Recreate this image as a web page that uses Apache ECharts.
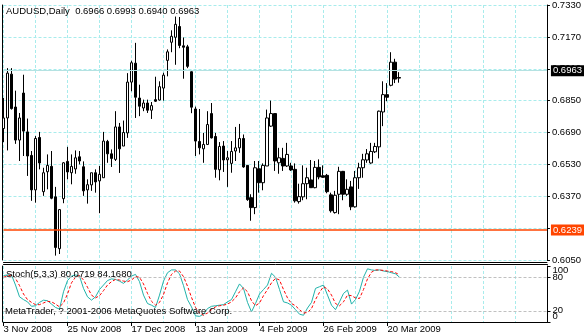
<!DOCTYPE html>
<html><head><meta charset="utf-8">
<script src="https://cdn.jsdelivr.net/npm/echarts@6/dist/echarts.min.js"></script>
<style>html,body{margin:0;padding:0;background:#fff}#c{width:584px;height:336px}</style>
</head><body><div id="c"></div>
<script>
// ---- data ----
const symbolTitle = 'AUDUSD,Daily';
const lastBar = [0.6966, 0.6993, 0.6940, 0.6963];
const dateLabels = ['3 Nov 2008','25 Nov 2008','17 Dec 2008','13 Jan 2009','4 Feb 2009','26 Feb 2009','20 Mar 2009'];
const barsPerDateLabel = 16;
const barsPerGridLine = 8;
const slotCount = 137;
const priceMin = 0.6050, priceMax = 0.7330, priceStep = 0.016;
const hLinePrice = 0.6239;
const stochTitle = 'Stoch(5,3,3)';
const stochLast = [80.0719, 84.1680];
const stochLevels = [20, 80];
const stochEdgeLabels = [100, 0];
const copyrightText = 'MetaTrader, ? 2001-2006 MetaQuotes Software Corp.';

const opens = [0.6710,0.6763,0.6983,0.6818,0.6652,0.6888,0.6693,0.6575,0.6402,0.6665,
0.6393,0.6493,0.6520,0.6367,0.6107,0.6358,0.6545,0.6488,0.6507,0.6568,
0.6518,0.6402,0.6427,0.6488,0.6447,0.6463,0.6645,0.6583,0.6555,0.6718,
0.6622,0.6688,0.6943,0.7038,0.6863,0.6813,0.6838,0.6802,0.6855,0.6853,
0.6913,0.7052,0.7143,0.7168,0.7222,0.7125,0.7120,0.6995,0.6808,0.6645,
0.6608,0.6630,0.6785,0.6670,0.6503,0.6622,0.6553,0.6535,0.6597,0.6613,
0.6660,0.6525,0.6363,0.6313,0.6508,0.6438,0.6522,0.6722,0.6785,0.6538,
0.6560,0.6522,0.6522,0.6505,0.6343,0.6367,0.6433,0.6452,0.6413,0.6515,
0.6473,0.6475,0.6377,0.6288,0.6380,0.6495,0.6380,0.6417,0.6317,0.6463,
0.6513,0.6552,0.6537,0.6593,0.6618,0.6793,0.6880,0.6927,0.7043,0.6966];
const highs = [0.6863,0.7013,0.7013,0.6900,0.6788,0.6980,0.6760,0.6597,0.6672,0.6693,
0.6513,0.6580,0.6597,0.6417,0.6305,0.6542,0.6618,0.6580,0.6600,0.6597,
0.6545,0.6455,0.6488,0.6505,0.6522,0.6693,0.6653,0.6605,0.6797,0.6738,
0.6750,0.6988,0.7050,0.7140,0.6930,0.6855,0.6855,0.6843,0.6970,0.6947,
0.6990,0.7107,0.7203,0.7272,0.7270,0.7167,0.7130,0.6997,0.6820,0.6808,
0.6688,0.6797,0.6838,0.6688,0.6642,0.6647,0.6597,0.6647,0.6718,0.6733,
0.6680,0.6527,0.6380,0.6547,0.6547,0.6535,0.6805,0.6850,0.6785,0.6613,
0.6613,0.6638,0.6538,0.6535,0.6433,0.6525,0.6513,0.6552,0.6547,0.6555,
0.6525,0.6482,0.6388,0.6397,0.6518,0.6497,0.6455,0.6447,0.6497,0.6538,
0.6583,0.6607,0.6638,0.6638,0.6800,0.6947,0.6938,0.7093,0.7060,0.6993];
const lows = [0.6642,0.6600,0.6805,0.6633,0.6547,0.6572,0.6472,0.6347,0.6338,0.6505,
0.6372,0.6405,0.6355,0.6072,0.6080,0.6335,0.6455,0.6430,0.6483,0.6530,
0.6372,0.6333,0.6397,0.6388,0.6285,0.6463,0.6538,0.6517,0.6547,0.6487,
0.6622,0.6663,0.6897,0.6763,0.6772,0.6797,0.6788,0.6758,0.6843,0.6850,
0.6850,0.6972,0.7093,0.7030,0.7113,0.6960,0.7013,0.6787,0.6572,0.6580,
0.6538,0.6627,0.6660,0.6463,0.6450,0.6492,0.6417,0.6488,0.6547,0.6588,
0.6513,0.6347,0.6247,0.6280,0.6388,0.6400,0.6522,0.6718,0.6497,0.6483,
0.6497,0.6517,0.6497,0.6338,0.6333,0.6350,0.6355,0.6413,0.6410,0.6455,
0.6463,0.6385,0.6288,0.6283,0.6280,0.6350,0.6372,0.6300,0.6313,0.6407,
0.6463,0.6538,0.6533,0.6587,0.6560,0.6722,0.6847,0.6922,0.6938,0.6940];
const closes = [0.6763,0.6988,0.6810,0.6652,0.6763,0.6697,0.6572,0.6402,0.6660,0.6537,
0.6488,0.6525,0.6360,0.6113,0.6303,0.6538,0.6492,0.6520,0.6563,0.6547,
0.6397,0.6428,0.6488,0.6442,0.6480,0.6647,0.6583,0.6560,0.6718,0.6608,
0.6690,0.6943,0.7040,0.6867,0.6822,0.6838,0.6802,0.6825,0.6847,0.6920,
0.6978,0.7095,0.7173,0.7233,0.7127,0.7118,0.7022,0.6817,0.6647,0.6613,
0.6630,0.6730,0.6663,0.6505,0.6620,0.6552,0.6563,0.6595,0.6613,0.6660,
0.6517,0.6353,0.6313,0.6513,0.6438,0.6525,0.6763,0.6785,0.6547,0.6563,
0.6522,0.6580,0.6502,0.6347,0.6368,0.6433,0.6463,0.6413,0.6515,0.6467,
0.6465,0.6393,0.6297,0.6375,0.6495,0.6380,0.6405,0.6317,0.6463,0.6513,
0.6553,0.6583,0.6595,0.6620,0.6797,0.6880,0.6867,0.7043,0.6958,0.6963];
const stochK = [83,84,84,66,45,40,36,28,29,35,
39,38,32,26,23,54,74,82,84,82,
60,45,39,45,58,66,74,77,76,73,
69,75,82,85,72,48,33,30,26,48,
73,88,93,93,86,65,40,27,11,10,
14,24,28,29,30,31,36,40,54,68,
60,35,18,33,50,58,66,87,80,58,
36,34,30,22,14,12,25,35,60,63,
66,48,30,22,36,51,57,32,40,55,
80,95,93,92,93,91,90,88,86,80.0719];
const stochD = [80,82,84,78,65,50,40,35,31,31,
34,37,36,32,27,34,50,70,80,83,
75,62,48,43,47,56,66,72,76,75,
73,72,75,81,80,68,51,37,30,35,
49,70,85,91,91,81,64,44,26,16,
12,16,22,27,29,30,32,36,43,54,
61,54,38,29,34,47,58,70,78,75,
58,43,33,29,22,16,17,24,40,53,
63,59,48,33,29,36,48,47,43,42,
58,77,89,93,93,92,91,90,88,84.1680];

// ---- styles ----
const FONT = 'Liberation Sans';
const FS = 9.5;
const gridCyan = '#A8ECEC';
const bidColor = '#B4E2E2';
const orange = '#FF4500';

const categories = [];
for (let i = 0; i < slotCount; i++) {
  const k = i / barsPerDateLabel;
  categories.push(i % barsPerDateLabel === 0 && k < dateLabels.length ? dateLabels[k] : String(i));
}
const isDateSlot = (i) => i % barsPerDateLabel === 0 && i / barsPerDateLabel < dateLabels.length;
const isGridSlot = (i) => i % barsPerGridLine === 0;

const candleData = opens.map((o, i) => [o, closes[i], lows[i], highs[i]]);

const splitLineCfg = { show: true, interval: (i) => isGridSlot(i), lineStyle: { color: gridCyan, type: [3, 2], width: 1 } };
const blackLine = { color: '#000', width: 1 };
const txtFont = FS + 'px ' + FONT;

const chart = echarts.init(document.getElementById('c'), null, { renderer: 'canvas' });
chart.setOption({
  animation: false,
  backgroundColor: '#fff',
  textStyle: { fontFamily: FONT, fontSize: FS, color: '#000' },
  grid: [
    { left: 3.5, right: 36.5, top: 4, height: 256 },
    { left: 3.5, right: 36.5, top: 266, height: 56 }
  ],
  xAxis: [
    { type: 'category', gridIndex: 0, data: categories, boundaryGap: false, offset: 2,
      axisLine: { show: true, onZero: false, lineStyle: blackLine }, axisTick: { show: false }, axisLabel: { show: false },
      splitLine: splitLineCfg },
    { type: 'category', gridIndex: 1, data: categories, boundaryGap: false, position: 'bottom',
      axisLine: { show: true, onZero: false, lineStyle: blackLine },
      axisTick: { show: true, interval: (i) => isDateSlot(i), length: 4, lineStyle: blackLine },
      axisLabel: { show: true, interval: (i) => isDateSlot(i), align: 'left', margin: 2, fontFamily: FONT, fontSize: FS, color: '#000' },
      splitLine: splitLineCfg },
    { type: 'category', gridIndex: 1, data: categories, boundaryGap: false, position: 'top', offset: 2,
      axisLine: { show: true, onZero: false, lineStyle: blackLine }, axisTick: { show: false }, axisLabel: { show: false }, splitLine: { show: false } }
  ],
  yAxis: [
    { type: 'value', gridIndex: 0, position: 'right', min: priceMin, max: priceMax, interval: priceStep,
      axisLine: { show: true, lineStyle: blackLine }, axisTick: { show: true, length: 3, lineStyle: blackLine },
      axisLabel: { show: true, margin: 5, showMinLabel: true, showMaxLabel: true, formatter: (v) => v.toFixed(4), fontFamily: FONT, fontSize: FS, color: '#000' },
      splitLine: { show: true, lineStyle: { color: gridCyan, type: [3, 2], width: 1 } } },
    { type: 'value', gridIndex: 0, position: 'left', min: priceMin, max: priceMax, offset: 1,
      axisLine: { show: true, lineStyle: blackLine }, axisTick: { show: false }, axisLabel: { show: false }, splitLine: { show: false } },
    { type: 'value', gridIndex: 1, position: 'right', min: 0, max: 100, interval: 20,
      axisLine: { show: true, lineStyle: blackLine },
      axisTick: { show: true, length: 3, customValues: stochLevels.concat(stochEdgeLabels), lineStyle: blackLine },
      axisLabel: { show: true, margin: 5, customValues: stochLevels, fontFamily: FONT, fontSize: FS, color: '#000' },
      splitLine: { show: false } },
    { type: 'value', gridIndex: 1, position: 'left', min: 0, max: 100, offset: 1,
      axisLine: { show: true, lineStyle: blackLine }, axisTick: { show: false }, axisLabel: { show: false }, splitLine: { show: false } }
  ],
  series: [
    { type: 'candlestick', xAxisIndex: 0, yAxisIndex: 0, data: candleData, barWidth: 3,
      itemStyle: { color: '#fff', color0: '#000', borderColor: '#000', borderColor0: '#000', borderWidth: 1 },
      markLine: { silent: true, symbol: ['none', 'none'], animation: false,
        data: [
          { yAxis: lastBar[3], lineStyle: { color: bidColor, type: 'solid', width: 1 },
            label: { show: true, position: 'end', distance: 4, formatter: lastBar[3].toFixed(4), color: '#fff', backgroundColor: '#000', padding: [1, 2, 0, 2], fontFamily: FONT, fontSize: FS } },
          { yAxis: hLinePrice, lineStyle: { color: orange, type: 'solid', width: 1.5 },
            label: { show: true, position: 'end', distance: 4, formatter: hLinePrice.toFixed(4), color: '#fff', backgroundColor: orange, padding: [1, 2, 0, 2], fontFamily: FONT, fontSize: FS } }
        ] } },
    { type: 'line', xAxisIndex: 1, yAxisIndex: 2, data: stochK, symbol: 'none', lineStyle: { color: '#20B2AA', width: 1 },
      markLine: { silent: true, symbol: ['none', 'none'], label: { show: false },
        lineStyle: { color: '#C0C0C0', type: [3, 2], width: 1 },
        data: stochLevels.map((v) => ({ yAxis: v })) } },
    { type: 'line', xAxisIndex: 1, yAxisIndex: 2, data: stochD, symbol: 'none', lineStyle: { color: '#FF0000', width: 1, type: [3, 2] } }
  ],
  graphic: [
    { id: 't1', type: 'text', left: 6, top: 6, z: 100, style: { text: symbolTitle + '  ' + lastBar.map((v) => v.toFixed(4)).join(' '), font: txtFont, fill: '#000' } },
    { id: 't2', type: 'text', left: 6, top: 269, z: 100, style: { text: stochTitle + ' ' + stochLast.map((v) => v.toFixed(4)).join(' '), font: txtFont, fill: '#000' } },
    { id: 't3', type: 'text', left: 5, top: 306, z: 100, style: { text: copyrightText, font: txtFont, fill: '#000' } }
  ]
});

// Edge labels of the stochastic scale (100 and 0) are drawn just inside the panel, as MetaTrader does.
const axisX = chart.getWidth() - 36.5 + 5;
const edgeOffsets = [4, -6];
chart.setOption({
  graphic: stochEdgeLabels.map((v, k) => {
    const y = chart.convertToPixel({ yAxisIndex: 2 }, v) + edgeOffsets[k];
    return { id: 'edge' + k, type: 'text', x: axisX, y: y, z: 100,
      style: { text: String(v), font: txtFont, fill: '#000', verticalAlign: 'middle', textVerticalAlign: 'middle', align: 'left' } };
  })
});
</script></body></html>
